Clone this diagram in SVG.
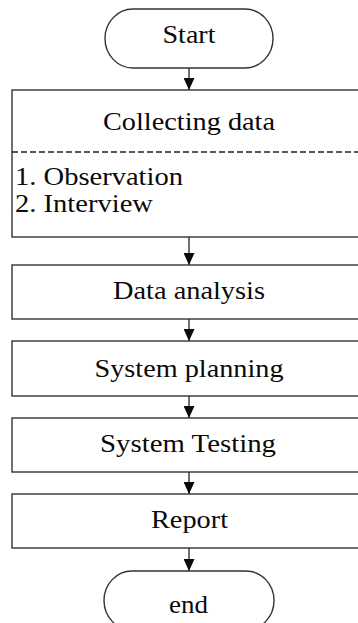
<svg xmlns="http://www.w3.org/2000/svg" width="358" height="623" viewBox="0 0 358 623">
  <style>
    .shape { fill: #ffffff; stroke: #333333; stroke-width: 1.4; }
    .label { font-family: 'Liberation Serif', 'Times New Roman', serif; font-size: 25px; fill: #0a0a0a; }
    .mid { text-anchor: middle; }
    .flow { stroke: #333333; stroke-width: 1.4; fill: none; }
    .divider { stroke: #222222; stroke-width: 1.5; stroke-dasharray: 6 3; }
  </style>
  <defs>
    <marker id="arrow" viewBox="0 0 12 11" refX="12" refY="5.5" markerWidth="12" markerHeight="11" markerUnits="userSpaceOnUse" orient="auto">
      <path d="M0,0 L12,5.5 L0,11 Z" fill="#0a0a0a"/>
    </marker>
  </defs>
  <rect width="358" height="623" fill="#ffffff"/>

  <g id="connectors">
    <line class="flow" x1="189" y1="68" x2="189" y2="90" marker-end="url(#arrow)"/>
    <line class="flow" x1="189" y1="237" x2="189" y2="265" marker-end="url(#arrow)"/>
    <line class="flow" x1="189" y1="319" x2="189" y2="341" marker-end="url(#arrow)"/>
    <line class="flow" x1="189" y1="396" x2="189" y2="418" marker-end="url(#arrow)"/>
    <line class="flow" x1="189" y1="472" x2="189" y2="494" marker-end="url(#arrow)"/>
    <line class="flow" x1="189" y1="548" x2="189" y2="571" marker-end="url(#arrow)"/>
  </g>

  <g id="start">
    <rect class="shape" x="105" y="9" width="168" height="59" rx="28" ry="29.5"/>
    <text class="label mid" x="189" y="43" textLength="53" lengthAdjust="spacingAndGlyphs">Start</text>
  </g>

  <g id="collecting-data">
    <rect class="shape" x="12" y="90" width="360" height="147"/>
    <text class="label mid" x="189" y="130" textLength="172" lengthAdjust="spacingAndGlyphs">Collecting data</text>
    <line class="divider" x1="12" y1="152" x2="358" y2="152"/>
    <text class="label" x="15" y="185" textLength="168" lengthAdjust="spacingAndGlyphs">1. Observation</text>
    <text class="label" x="15" y="212" textLength="138" lengthAdjust="spacingAndGlyphs">2. Interview</text>
  </g>

  <g id="data-analysis">
    <rect class="shape" x="12" y="265" width="360" height="54"/>
    <text class="label mid" x="189" y="299" textLength="152" lengthAdjust="spacingAndGlyphs">Data analysis</text>
  </g>

  <g id="system-planning">
    <rect class="shape" x="12" y="341" width="360" height="55"/>
    <text class="label mid" x="189" y="377" textLength="189" lengthAdjust="spacingAndGlyphs">System planning</text>
  </g>

  <g id="system-testing">
    <rect class="shape" x="12" y="418" width="360" height="54"/>
    <text class="label mid" x="188" y="452" textLength="176" lengthAdjust="spacingAndGlyphs">System Testing</text>
  </g>

  <g id="report">
    <rect class="shape" x="12" y="494" width="360" height="54"/>
    <text class="label mid" x="189.5" y="528" textLength="77" lengthAdjust="spacingAndGlyphs">Report</text>
  </g>

  <g id="end">
    <rect class="shape" x="104" y="571" width="170" height="59" rx="28" ry="29.5"/>
    <text class="label mid" x="188.5" y="613" textLength="39" lengthAdjust="spacingAndGlyphs">end</text>
  </g>
</svg>
